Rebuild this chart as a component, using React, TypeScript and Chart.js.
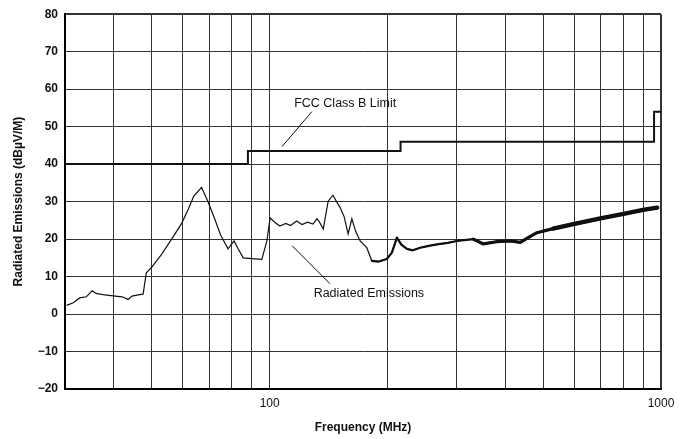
import React, { useEffect, useRef } from "react";
import { Chart, registerables } from "chart.js";

Chart.register(...registerables);

// FCC Class B limit (stepped)
const limitFreq = [30, 88, 88, 216, 216, 960, 960, 1000];
const limitValue = [40, 40, 43.5, 43.5, 46, 46, 54, 54];

// Radiated emissions measured curve
const emisFreq = [
  30.3, 31.5, 32.7, 34, 35.2, 36, 37.5, 40.3, 42, 43.5, 44.5, 46.5, 47.5, 48.4,
  50, 53, 56.5, 59.6, 62, 64, 67, 69.5, 72, 75, 78.3, 81.1, 83, 85.6, 90, 95.5,
  98.4, 100.3, 103, 106.2, 110, 113, 117.3, 121, 125, 129, 132.1, 134, 137.1, 141.1, 145.1, 151.4,
  155, 158.7, 162.2, 166, 170.3, 177.1, 182.4, 190, 199.3, 205.3, 211.4, 217,
  224.3, 232, 242.5, 255, 267.6, 285, 301.2, 331.5, 351.5, 380, 412, 437, 460,
  482, 530, 597, 700, 802, 900, 978,
];
const emisValue = [
  2.3, 3.0, 4.3, 4.6, 6.2, 5.5, 5.2, 4.8, 4.6, 3.9, 4.8, 5.2, 5.3, 11.0,
  12.5, 16, 20.4, 24.2, 28, 31.5, 33.8, 30.1, 26, 21, 17.4, 19.5, 17.5, 15.0, 14.8, 14.6,
  19.5, 25.7, 24.5, 23.5, 24.2, 23.6, 24.8, 23.9, 24.5, 24.0, 25.4, 24.6, 22.7, 30.1, 31.7, 28.4,
  26, 21.4, 25.4, 22, 19.5, 17.7, 14.2, 14.0, 14.7, 16.4, 20.4, 18.5,
  17.4, 17.0, 17.7, 18.2, 18.6, 19.0, 19.5, 20.0, 18.7, 19.3, 19.5, 19.1, 20.5,
  21.7, 22.8, 24.0, 25.5, 26.7, 27.8, 28.4,
];

// Frequency bands where the measured trace becomes a thicker noisy ribbon
const ribbonStart = [180, 320, 520];
const ribbonWidth = [2.2, 3.2, 4.3];

const xGridValues = [30, 40, 50, 60, 70, 80, 90, 100, 200, 300, 400, 500, 600, 700, 800, 900, 1000];
const xTickLabels = [100, 1000];
const yMin = -20;
const yMax = 80;
const yStep = 10;

// Callout labels: text position and leader line in data units
const callouts = [
  { text: "FCC Class B Limit", tx: 156, ty: 56.1, x1: 107.6, y1: 44.7, x2: 128.2, y2: 54.0 },
  { text: "Radiated Emissions", tx: 179.3, ty: 5.5, x1: 114.2, y1: 18.2, x2: 142.6, y2: 8.1 },
];

const FONT = "'Liberation Sans', Arial, sans-serif";

const calloutPlugin = {
  id: "callouts",
  afterDatasetsDraw(chart: any) {
    const { ctx } = chart;
    const xs = chart.scales.x;
    const ys = chart.scales.y;
    ctx.save();
    ctx.strokeStyle = "#111";
    ctx.lineWidth = 1;
    ctx.fillStyle = "#111";
    ctx.font = `12.5px ${FONT}`;
    ctx.textAlign = "center";
    ctx.textBaseline = "middle";
    for (const c of callouts) {
      ctx.beginPath();
      ctx.moveTo(xs.getPixelForValue(c.x1), ys.getPixelForValue(c.y1));
      ctx.lineTo(xs.getPixelForValue(c.x2), ys.getPixelForValue(c.y2));
      ctx.stroke();
      ctx.fillText(c.text, xs.getPixelForValue(c.tx), ys.getPixelForValue(c.ty));
    }
    ctx.restore();
  },
};

export default function App() {
  const ref = useRef<HTMLCanvasElement>(null);
  useEffect(() => {
    document.body.style.margin = "0";
    const canvas = ref.current!;
    const emisPoints = emisFreq.map((f, i) => ({ x: f, y: emisValue[i] }));
    const ribbons = ribbonStart.map((start, k) => ({
      label: "Radiated Emissions ribbon " + k,
      data: emisPoints.filter((p) => p.x >= start),
      borderColor: "#111",
      borderWidth: ribbonWidth[k],
      borderJoinStyle: "round" as const,
      borderCapStyle: "round" as const,
      pointRadius: 0,
      tension: 0,
    }));
    const chart = new Chart(canvas, {
      type: "line",
      data: {
        datasets: [
          {
            label: "FCC Class B Limit",
            data: limitFreq.map((f, i) => ({ x: f, y: limitValue[i] })),
            borderColor: "#111",
            borderWidth: 2,
            pointRadius: 0,
            tension: 0,
          },
          {
            label: "Radiated Emissions",
            data: emisPoints,
            borderColor: "#111",
            borderWidth: 1.2,
            pointRadius: 0,
            tension: 0,
          },
          ...ribbons,
        ],
      },
      options: {
        responsive: false,
        animation: false,
        layout: { padding: { top: 12, right: 30, left: 0, bottom: 0 } },
        plugins: { legend: { display: false }, tooltip: { enabled: false } },
        scales: {
          x: {
            type: "logarithmic",
            min: 30,
            max: 1000,
            afterBuildTicks: (s: any) => {
              s.ticks = xGridValues.map((v) => ({ value: v }));
            },
            afterFit: (s: any) => {
              s.height = 50;
            },
            ticks: {
              autoSkip: false,
              maxRotation: 0,
              padding: 7,
              color: "#111",
              font: { family: FONT, size: 12 },
              callback: (v: any) => (xTickLabels.includes(Number(v)) ? String(v) : ""),
            },
            grid: {
              color: "#333",
              lineWidth: (c: any) => (c.tick && c.tick.value === 1000 ? 2 : 1),
              drawTicks: false,
            },
            border: { color: "#000", width: 2 },
            title: {
              display: true,
              text: "Frequency (MHz)",
              color: "#111",
              font: { family: FONT, size: 12, weight: "bold" },
              padding: { top: 0, bottom: 4 },
            },
          },
          y: {
            type: "linear",
            min: yMin,
            max: yMax,
            afterFit: (s: any) => {
              s.width = 65;
            },
            ticks: {
              stepSize: yStep,
              padding: 7,
              color: "#111",
              font: { family: FONT, size: 12, weight: "bold" },
              callback: (v: any) => (Number(v) < 0 ? "\u2212" + Math.abs(Number(v)) : String(v)),
            },
            grid: {
              color: "#333",
              lineWidth: (c: any) => (c.tick && c.tick.value === yMax ? 2 : 1),
              drawTicks: false,
            },
            border: { color: "#000", width: 2 },
            title: {
              display: true,
              text: "Radiated Emissions (dB\u00B5V/M)",
              color: "#111",
              font: { family: FONT, size: 12, weight: "bold" },
              padding: { top: 11, bottom: 0 },
            },
          },
        },
      },
      plugins: [calloutPlugin],
    });
    return () => chart.destroy();
  }, []);
  return (
    <div style={{ width: 691, height: 439, background: "#fff" }}>
      <canvas ref={ref} width={691} height={439} />
    </div>
  );
}
